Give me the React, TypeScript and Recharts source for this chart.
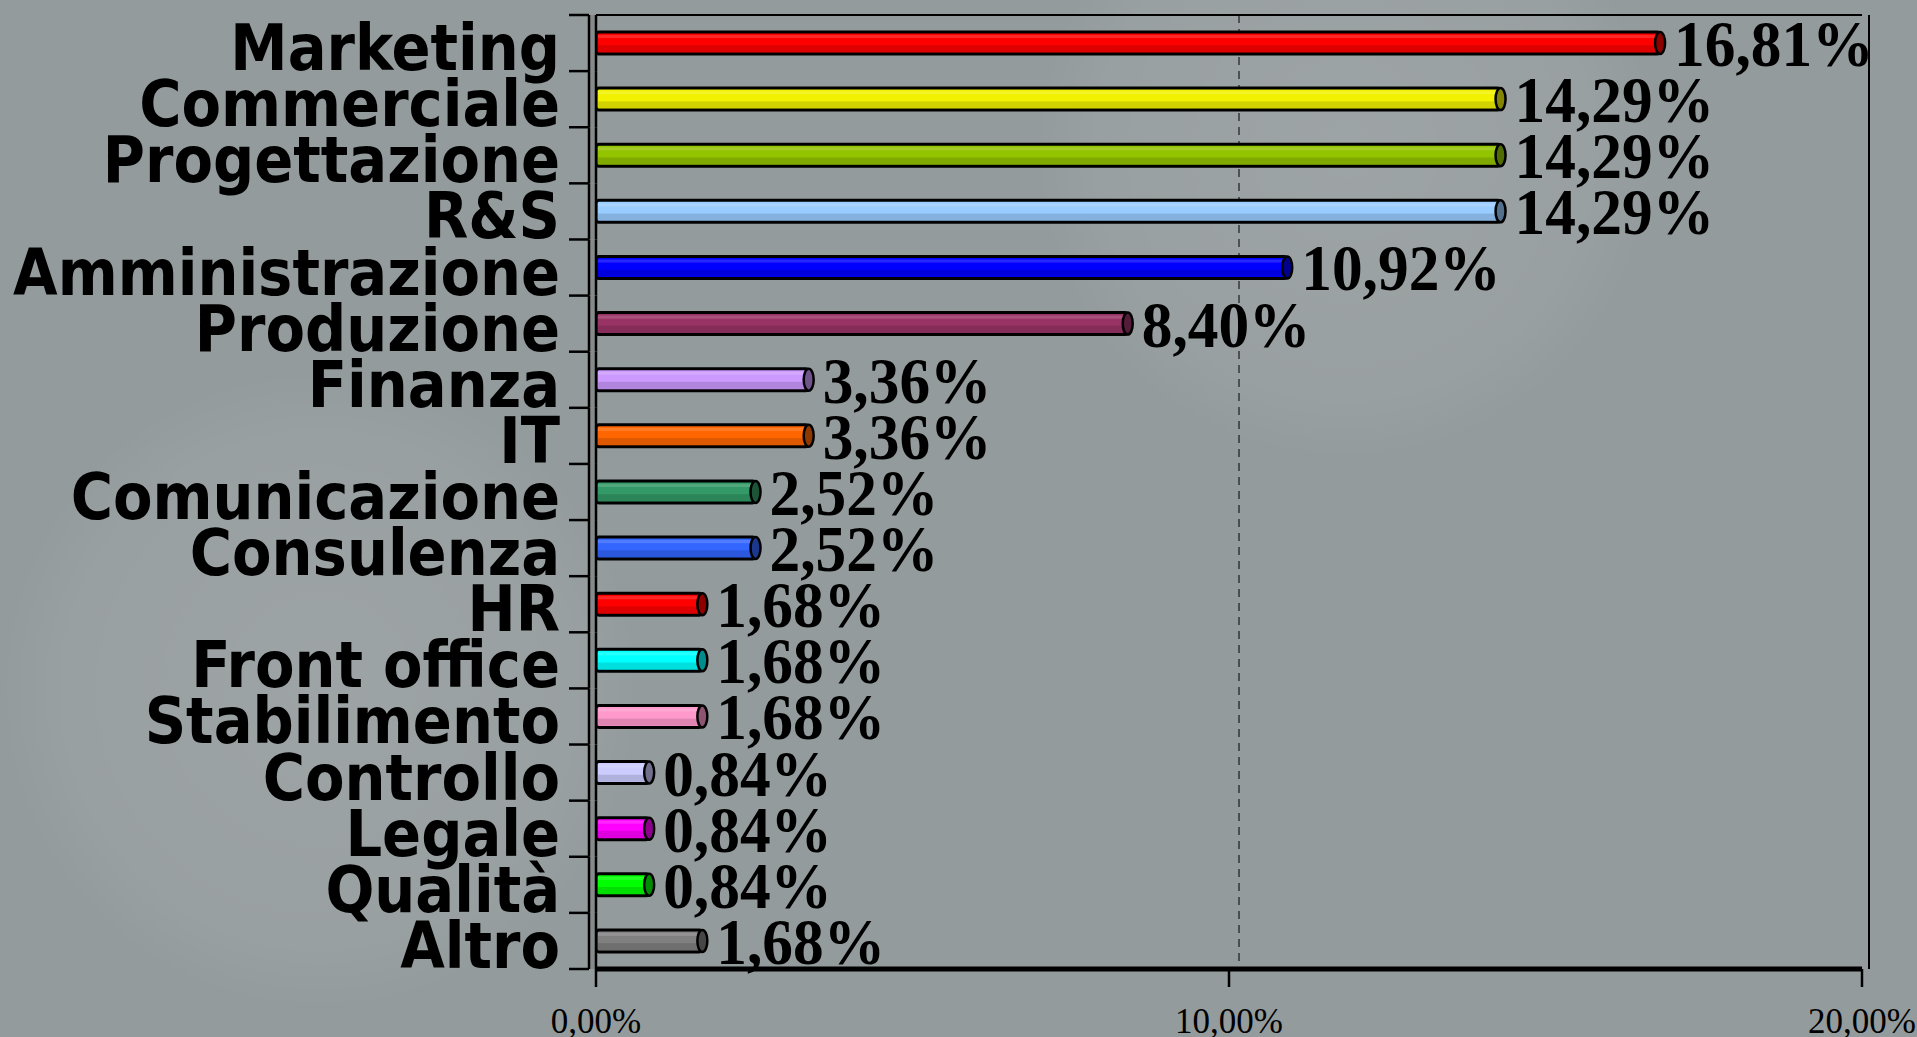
import { BarChart, Bar, XAxis, YAxis, CartesianGrid, Cell, LabelList } from "recharts";

const categories = [
  "Marketing", "Commerciale", "Progettazione", "R&S", "Amministrazione", "Produzione",
  "Finanza", "IT", "Comunicazione", "Consulenza", "HR", "Front office",
  "Stabilimento", "Controllo", "Legale", "Qualità", "Altro",
];
const values = [16.81, 14.29, 14.29, 14.29, 10.92, 8.4, 3.36, 3.36, 2.52, 2.52, 1.68, 1.68, 1.68, 0.84, 0.84, 0.84, 1.68];
const colors = [
  "#ff0000", "#f2f200", "#93c400", "#99ccff", "#0000ff", "#993366",
  "#cc99ff", "#ff6600", "#339966", "#3366ff", "#ff0000", "#00ffff",
  "#ff99cc", "#ccccff", "#ff00ff", "#00ff00", "#808080",
];
const xTicks = [0, 10, 20];

const BG = "#949b9c";
const W = 1917, H = 1037;
const TOP = 15, X_AXIS_H = 68, Y_AXIS_W = 596;
const BAND = (H - TOP - X_AXIS_H) / categories.length;

const data = categories.map((name, i) => ({ name, value: values[i] }));

const pct = (v: number) => v.toFixed(2).replace(".", ",") + "%";

function darken(hex: string, k = 0.55) {
  const n = parseInt(hex.slice(1), 16);
  const r = Math.round(((n >> 16) & 255) * k);
  const g = Math.round(((n >> 8) & 255) * k);
  const b = Math.round((n & 255) * k);
  return `rgb(${r},${g},${b})`;
}

// cylinder-ish bar with dark end cap
const BarShape = (props: any) => {
  const { x, y, width, height, fill } = props;
  if (!width) return null;
  const r = height / 2;
  return (
    <g>
      <rect x={x} y={y} width={width} height={height} fill={fill} rx={3} />
      <rect x={x + 2} y={y + height * 0.6} width={Math.max(0, width - 4)} height={height * 0.32} fill="#000" opacity={0.13} />
      <rect x={x + 2} y={y + 3} width={Math.max(0, width - 4)} height={height * 0.14} fill="#fff" opacity={0.15} />
      <rect x={x} y={y} width={width} height={height} fill="none" stroke="#000" strokeWidth={3} rx={3} />
      <ellipse cx={x + width} cy={y + r} rx={5} ry={r} fill={darken(fill)} stroke="#000" strokeWidth={2.5} />
    </g>
  );
};

const ValueLabel = (props: any) => {
  const { x, y, width, height, value } = props;
  const tx = x + width + 14;
  const ty = y + height / 2 + 23;
  return (
    <text
      transform={`translate(${tx},${ty}) scale(0.93,1)`}
      fontFamily="'Liberation Serif', 'Times New Roman', serif"
      fontWeight="bold"
      fontSize={66}
      fill="#000"
    >
      {pct(value)}
    </text>
  );
};

const YTick = (props: any) => {
  const { x, y, payload, index } = props;
  const top = y - BAND / 2;
  return (
    <g>
      <rect x={x - 7} y={top} width={7} height={BAND} fill="#858a8b" />
      <line x1={x - 7} x2={x - 7} y1={top} y2={top + BAND} stroke="#000" strokeWidth={2.5} />
      <line x1={x} x2={x} y1={top} y2={top + BAND} stroke="#000" strokeWidth={2.5} />
      <line x1={x - 27} x2={x - 7} y1={top} y2={top} stroke="#000" strokeWidth={2.5} />
      {index === categories.length - 1 && (
        <line x1={x - 27} x2={x - 7} y1={top + BAND} y2={top + BAND} stroke="#000" strokeWidth={2.5} />
      )}
      <text
        x={x - 36}
        y={y + 27}
        textAnchor="end"
        fontFamily="'DejaVu Sans Condensed', 'DejaVu Sans', sans-serif"
        fontStretch="condensed"
        fontWeight="bold"
        fontSize={64}
        fill="#000"
      >
        {payload.value}
      </text>
    </g>
  );
};

const XTick = (props: any) => {
  const { x, y, payload } = props;
  return (
    <text x={x} y={y + 46} textAnchor="middle" fontFamily="'Liberation Serif', 'Times New Roman', serif" fontSize={35} fill="#000">
      {pct(payload.value)}
    </text>
  );
};

export default function App() {
  return (
    <div style={{ position: "absolute", left: 0, top: 0, width: W, height: H, background: BG, overflow: "hidden" }}>
      {/* faint decorative spheres of the slide background */}
      <svg width={W} height={H} style={{ position: "absolute", left: 0, top: 0 }}>
        <defs>
          <radialGradient id="glow">
            <stop offset="0%" stopColor="#ffffff" stopOpacity={0.09} />
            <stop offset="80%" stopColor="#ffffff" stopOpacity={0.05} />
            <stop offset="100%" stopColor="#ffffff" stopOpacity={0} />
          </radialGradient>
        </defs>
        <circle cx={1345} cy={150} r={310} fill="url(#glow)" />
        <circle cx={320} cy={690} r={320} fill="url(#glow)" />
      </svg>
      <div style={{ position: "absolute", left: 0, top: 0 }}>
        <BarChart
          width={W}
          height={H}
          data={data}
          layout="vertical"
          margin={{ top: TOP, right: 55, bottom: 0, left: 0 }}
        >
          {/* back wall frame: top + right edge */}
          <CartesianGrid
            stroke="#000"
            strokeWidth={2}
            horizontalCoordinatesGenerator={({ offset }: any) => [offset.top]}
            verticalCoordinatesGenerator={({ offset }: any) => [offset.left + offset.width + 7]}
          />
          {/* 10% dashed gridline, pushed back by the 3D depth */}
          <CartesianGrid
            horizontal={false}
            stroke="#000"
            strokeWidth={1}
            strokeDasharray="8 6"
            verticalCoordinatesGenerator={({ offset }: any) => [offset.left + offset.width / 2 + 10]}
          />
          <XAxis
            type="number"
            domain={[0, 20]}
            ticks={xTicks}
            height={X_AXIS_H}
            axisLine={{ stroke: "#000", strokeWidth: 5 }}
            tickLine={{ stroke: "#000", strokeWidth: 2.5 }}
            tickSize={18}
            tickMargin={0}
            tick={<XTick />}
            interval={0}
          />
          <YAxis
            type="category"
            dataKey="name"
            width={Y_AXIS_W}
            axisLine={false}
            tickLine={false}
            tickSize={0}
            tickMargin={0}
            tick={<YTick />}
            interval={0}
          />
          <Bar dataKey="value" barSize={22} isAnimationActive={false} shape={<BarShape />}>
            {data.map((d, i) => (
              <Cell key={d.name} fill={colors[i]} />
            ))}
            <LabelList dataKey="value" content={<ValueLabel />} />
          </Bar>
        </BarChart>
      </div>
    </div>
  );
}
